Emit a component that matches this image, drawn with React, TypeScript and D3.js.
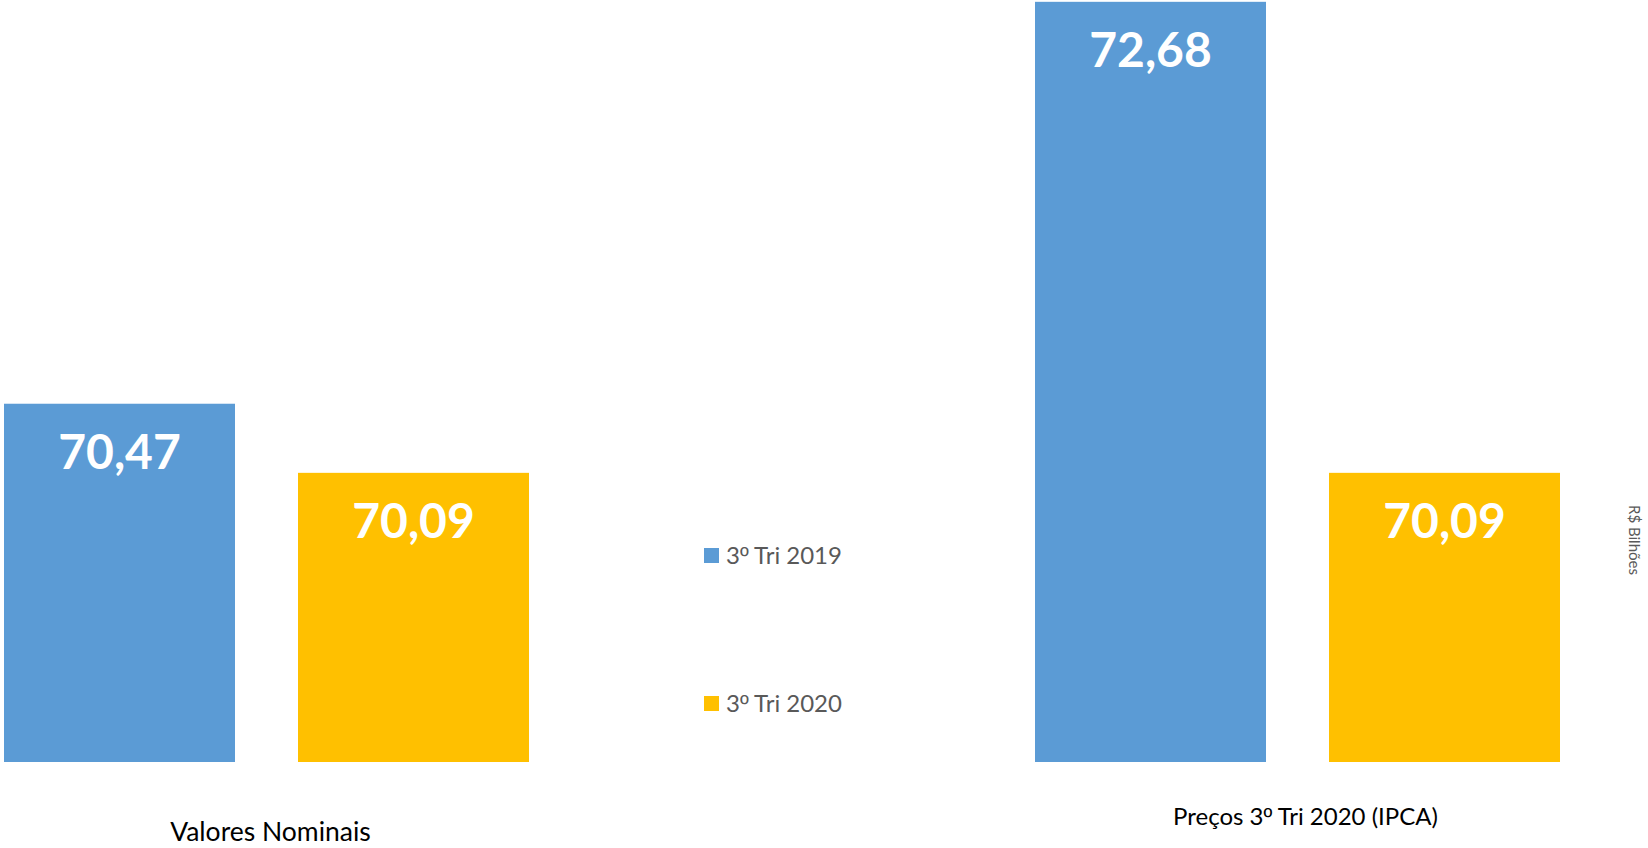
import React from "react";
import * as d3 from "d3";

const categories = ["Valores Nominais", "Preços 3º Tri 2020 (IPCA)"];
const seriesNames = ["3º Tri 2019", "3º Tri 2020"];
const values2019 = [70.47, 72.68];
const values2020 = [70.09, 70.09];
const valueLabels2019 = ["70,47", "72,68"];
const valueLabels2020 = ["70,09", "70,09"];
const unitLabel = "R$ Bilhões";

const W = 1648;
const H = 848;
const COLORS = ["#5B9BD5", "#FFC000"];
const FONT = "Lato, 'Open Sans', sans-serif";
const ORD_FONT = "'Liberation Sans', 'DejaVu Sans', sans-serif";

// Render text, drawing the ordinal indicator "º" with a font whose glyph is underlined
function withOrdinal(s: string) {
  const parts = s.split("º");
  const out: React.ReactNode[] = [];
  parts.forEach((p, i) => {
    if (i > 0)
      out.push(
        <tspan key={"o" + i} fontFamily={ORD_FONT}>
          º
        </tspan>
      );
    out.push(<tspan key={"t" + i}>{p}</tspan>);
  });
  return out;
}

export default function App() {
  const baseY = 762;
  const y = d3.scaleLinear().domain([68.5, 72.69]).range([baseY, 0]);
  const groupCenters = d3.scalePoint<string>().domain(categories).range([266.5, 1297.5]);
  const inner = d3
    .scaleBand<string>()
    .domain(seriesNames)
    .range([-262.5, 262.5])
    .paddingInner(63 / 294)
    .paddingOuter(0);

  const series = [
    { name: seriesNames[0], values: values2019, labels: valueLabels2019, color: COLORS[0] },
    { name: seriesNames[1], values: values2020, labels: valueLabels2020, color: COLORS[1] },
  ];

  const catLabelY = [841, 825];
  const catLabelDx = [4, 8];
  const catLabelSize = [26.5, 24];

  return (
    <svg
      width={W}
      height={H}
      style={{ position: "absolute", left: 0, top: 0, background: "#fff" }}
      fontFamily={FONT}
    >
      {categories.map((c, ci) => (
        <g key={c} transform={`translate(${groupCenters(c)},0)`}>
          {series.map((s) => {
            const x0 = inner(s.name)!;
            const bw = inner.bandwidth();
            const top = y(s.values[ci]);
            return (
              <g key={s.name}>
                <rect x={x0} y={top} width={bw} height={baseY - top} fill={s.color} />
                <text
                  x={x0 + bw / 2}
                  y={top + 65}
                  textAnchor="middle"
                  fill="#fff"
                  fontWeight={700}
                  fontSize={48}
                >
                  {s.labels[ci]}
                </text>
              </g>
            );
          })}
          <text
            x={catLabelDx[ci]}
            y={catLabelY[ci]}
            textAnchor="middle"
            fontSize={catLabelSize[ci]}
            fill="#000"
          >
            {withOrdinal(c)}
          </text>
        </g>
      ))}
      {series.map((s, i) => (
        <g key={s.name} transform={`translate(704,${548 + i * 148})`}>
          <rect x={0} y={0} width={15} height={15} fill={s.color} />
          <text x={22} y={15.5} fontSize={24} fill="#595959">
            {withOrdinal(s.name)}
          </text>
        </g>
      ))}
      <text
        transform="translate(1629,540) rotate(90)"
        textAnchor="middle"
        fontSize={15}
        fill="#595959"
      >
        {unitLabel}
      </text>
    </svg>
  );
}
